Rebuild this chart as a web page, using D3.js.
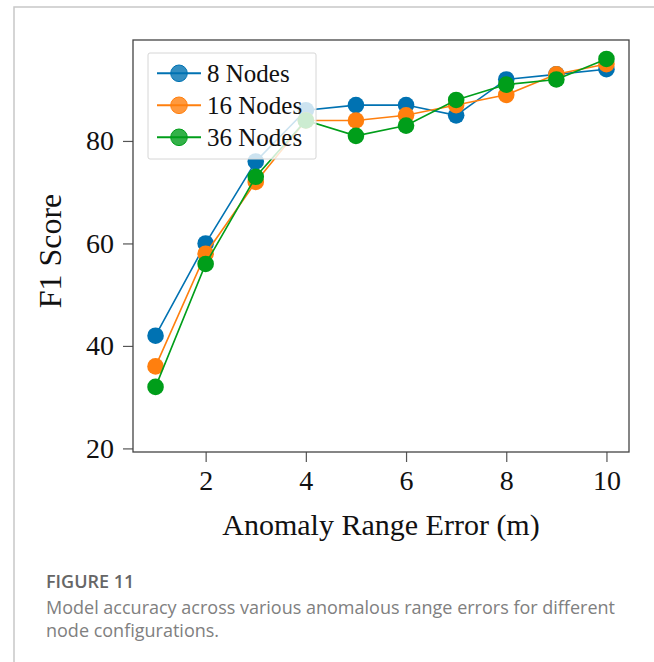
<!DOCTYPE html>
<html>
<head>
<meta charset="utf-8">
<script src="https://cdn.jsdelivr.net/npm/d3@7"></script>
<style>
  html, body { margin: 0; padding: 0; background: #fff; }
  svg { display: block; }
</style>
</head>
<body>
<svg id="chart" width="654" height="662"></svg>
<script>
const xValues = [1, 2, 3, 4, 5, 6, 7, 8, 9, 10];
const nodes8  = [42, 60, 76, 86, 87, 87, 85, 92, 93, 94];
const nodes16 = [36, 58, 72, 84, 84, 85, 87, 89, 93, 95];
const nodes36 = [32, 56, 73, 84, 81, 83, 88, 91, 92, 96];
const seriesNames = ["8 Nodes", "16 Nodes", "36 Nodes"];
const seriesColors = ["#0072b2", "#ff7f0e", "#009e1a"];
const xTicks = [2, 4, 6, 8, 10];
const yTicks = [20, 40, 60, 80];
const xLabel = "Anomaly Range Error (m)";
const yLabel = "F1 Score";
const figTitle = "FIGURE 11";
const captionLines = ["Model accuracy across various anomalous range errors for different", "node configurations."];

const series = [nodes8, nodes16, nodes36].map((vals, i) => ({
  name: seriesNames[i], color: seriesColors[i],
  points: xValues.map((x, j) => ({ x, y: vals[j] }))
}));

const svg = d3.select("#chart");
const L = 133, R = 629, T = 40, B = 452;
const x = d3.scaleLinear().domain([0.55, 10.45]).range([L, R]);
const y = d3.scaleLinear().domain([19.3, 99.7]).range([B, T]);
const serif = "Liberation Serif, Times New Roman, serif";

// outer page frame
svg.append("path").attr("d", "M14,662 L14,7 L654,7")
  .attr("fill", "none").attr("stroke", "#c8c8c8").attr("stroke-width", 1.5);

// axes
const gx = svg.append("g").attr("transform", `translate(0,${B})`)
  .call(d3.axisBottom(x).tickValues(xTicks).tickSize(10).tickPadding(8).tickFormat(d3.format("d")));
const gy = svg.append("g").attr("transform", `translate(${L},0)`)
  .call(d3.axisLeft(y).tickValues(yTicks).tickSize(10).tickPadding(9).tickFormat(d3.format("d")));
[gx, gy].forEach(g => {
  g.attr("font-family", serif);
  g.select(".domain").remove();
  g.selectAll(".tick line").attr("stroke", "#555").attr("stroke-width", 1.2);
  g.selectAll(".tick text").attr("font-family", serif).attr("font-size", 28).attr("fill", "#111");
});

// series
const line = d3.line().x(d => x(d.x)).y(d => y(d.y));
series.forEach(s => {
  const g = svg.append("g");
  g.append("path").datum(s.points).attr("d", line)
    .attr("fill", "none").attr("stroke", s.color).attr("stroke-width", 1.6);
  g.selectAll("circle").data(s.points).join("circle")
    .attr("cx", d => x(d.x)).attr("cy", d => y(d.y)).attr("r", 8.3)
    .attr("fill", s.color);
});

// plot frame
svg.append("rect").attr("x", L).attr("y", T).attr("width", R - L).attr("height", B - T)
  .attr("fill", "none").attr("stroke", "#444").attr("stroke-width", 1.3);

// legend
const lg = svg.append("g").attr("font-family", serif);
lg.append("rect").attr("x", 148).attr("y", 53).attr("width", 168).attr("height", 106)
  .attr("rx", 2).attr("fill", "#fff").attr("fill-opacity", 0.8)
  .attr("stroke", "#d6d6d6").attr("stroke-width", 1);
series.forEach((s, i) => {
  const cy = 73.3 + i * 32;
  lg.append("line").attr("x1", 157).attr("x2", 201).attr("y1", cy).attr("y2", cy)
    .attr("stroke", s.color).attr("stroke-width", 2);
  lg.append("circle").attr("cx", 179).attr("cy", cy).attr("r", 8.3)
    .attr("fill", s.color).attr("fill-opacity", 0.8).attr("stroke", s.color).attr("stroke-width", 1);
  lg.append("text").attr("x", 207).attr("y", cy + 8.5).text(s.name)
    .style("font-family", serif).attr("font-size", 25).attr("fill", "#111");
});

// axis labels
svg.append("text").attr("x", (L + R) / 2).attr("y", 535).attr("text-anchor", "middle")
  .attr("font-family", serif).attr("font-size", 30).attr("fill", "#111").text(xLabel);
svg.append("text").attr("transform", `translate(61,251) rotate(-90)`)
  .attr("text-anchor", "middle").attr("font-family", serif).attr("font-size", 32)
  .attr("fill", "#111").text(yLabel);

// caption
const sans = "Open Sans, Noto Sans, sans-serif";
svg.append("text").attr("x", 46).attr("y", 588).text(figTitle)
  .attr("font-family", sans).attr("font-size", 18).attr("font-weight", 600).attr("fill", "#666");
captionLines.forEach((t, i) => {
  svg.append("text").attr("x", 46).attr("y", 614 + i * 23).text(t)
    .attr("font-family", sans).attr("font-size", 18).attr("fill", "#808080");
});
</script>
</body>
</html>
